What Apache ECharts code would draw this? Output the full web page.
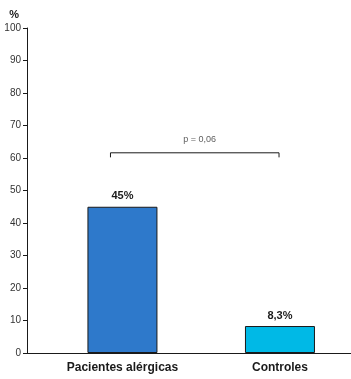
<!DOCTYPE html>
<html><head><meta charset="utf-8">
<script src="https://cdn.jsdelivr.net/npm/echarts@6/dist/echarts.min.js"></script>
<style>html,body{margin:0;padding:0;background:#fff}#c{width:351px;height:379px}</style>
</head><body><div id="c"></div>
<script>
const categories = ['Pacientes alérgicas', 'Controles'];
const values = [45, 8.3];
const valueLabels = ['45%', '8,3%'];
const barColors = ['#2e79cb', '#00b9e6'];
const yTicks = [0, 10, 20, 30, 40, 50, 60, 70, 80, 90, 100];
const bracketX = [-0.076, -0.076, 0.994, 0.994];
const bracketY = [60.2, 61.6, 61.6, 60.2];
const pText = 'p = 0,06';
const pPos = [0.49, 65.8];

const font = 'Liberation Sans, Arial, Helvetica, sans-serif';
const chart = echarts.init(document.getElementById('c'));
chart.setOption({
  animation: false,
  grid: {left: 27, right: 0, top: 28, bottom: 26},
  xAxis: {
    type: 'value', min: -0.606, max: 1.451,
    splitLine: {show: false},
    axisLine: {show: true, onZero: false, lineStyle: {color: '#1a1a1a', width: 1}},
    axisTick: {show: false},
    axisLabel: {
      customValues: categories.map((c, i) => i),
      formatter: v => categories[Math.round(v)] || '',
      color: '#1a1a1a', fontFamily: font, fontWeight: 'bold', fontSize: 12, margin: 9
    }
  },
  yAxis: {
    type: 'value', min: 0, max: 100, interval: 10,
    name: '%', nameLocation: 'end', nameGap: 8,
    nameTextStyle: {color: '#1a1a1a', fontFamily: font, fontWeight: 'bold', fontSize: 11, align: 'right', padding: [0, 8, 0, 0]},
    splitLine: {show: false},
    axisLine: {show: true, onZero: false, lineStyle: {color: '#1a1a1a', width: 1}},
    axisTick: {show: true, length: 4, lineStyle: {color: '#1a1a1a'}},
    axisLabel: {color: '#333', fontFamily: font, fontSize: 10, margin: 6}
  },
  series: [
    {
      type: 'bar', barWidth: 70,
      data: categories.map((c, i) => ({
        value: [i, values[i]],
        itemStyle: {color: barColors[i], borderColor: '#1a1a1a', borderWidth: 1},
        label: {formatter: valueLabels[i]}
      })),
      label: {show: true, position: 'top', distance: 5, color: '#1a1a1a', fontFamily: font, fontWeight: 'bold', fontSize: 11}
    },
    {
      type: 'line', symbol: 'none', silent: true,
      data: bracketX.map((x, i) => [x, bracketY[i]]),
      lineStyle: {color: '#1a1a1a', width: 1}
    },
    {
      type: 'scatter', symbolSize: 0, silent: true,
      data: [pPos],
      label: {show: true, position: 'inside', formatter: pText, color: '#333', fontFamily: font, fontSize: 9}
    }
  ]
});
</script></body></html>
